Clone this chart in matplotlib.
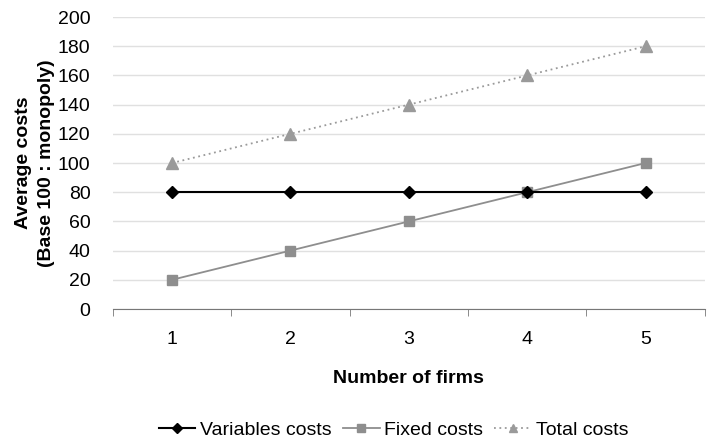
from matplotlib import pyplot as plt
import numpy as np

plt.rcParams['font.family'] = ['Liberation Sans', 'DejaVu Sans']

# data
firms = ["1", "2", "3", "4", "5"]
variable_costs = [80, 80, 80, 80, 80]
fixed_costs = [20, 40, 60, 80, 100]
total_costs = [100, 120, 140, 160, 180]

fig = plt.figure(figsize=(7.09, 4.38), dpi=100)
ax = fig.add_axes([0.159, 0.2945, 0.835, 0.6665])

x = np.arange(len(firms))
ax.plot(x, variable_costs, color='black', marker='D', markersize=6, lw=1.5,
		label='Variables costs', zorder=4)
ax.plot(x, fixed_costs, color='#8e8e8e', marker='s', markersize=7, lw=1.3,
		label='Fixed costs', zorder=3)
ax.plot(x, total_costs, color='#9a9a9a', marker='^', markersize=8, lw=1.3,
		ls=(0, (1, 2)), label='Total costs', zorder=3)

ax.set_xlim(-0.5, len(firms) - 0.5)
ax.set_ylim(0, 200)
ax.set_yticks(np.arange(0, 201, 20))
ax.set_xticks(x)
ax.set_xticklabels(firms, fontsize=14)
ax.set_xticks(np.arange(-0.5, len(firms), 1), minor=True)
ax.tick_params(axis='x', which='major', length=0, pad=16)
ax.tick_params(axis='x', which='minor', length=5, color='#777777', direction='out')
ax.tick_params(axis='y', length=0, labelsize=14, pad=16)

for side in ['top', 'right', 'left']:
	ax.spines[side].set_visible(False)
ax.spines['bottom'].set_color('#777777')
ax.yaxis.grid(True, color='#e0e0e0', lw=1)
ax.set_axisbelow(True)

ax.set_xlabel('Number of firms', fontsize=14, fontweight='bold', labelpad=16)
ax.set_ylabel('Average costs\n(Base 100 : monopoly)', fontsize=14, fontweight='bold',
			  labelpad=2, linespacing=1.45)

fig.legend(loc='center', bbox_to_anchor=(0.555, 0.018), ncol=3, frameon=False,
		   fontsize=14, handlelength=1.9, columnspacing=0.55, handletextpad=0.25,
		   markerscale=0.8)

fig.savefig('out.png')
